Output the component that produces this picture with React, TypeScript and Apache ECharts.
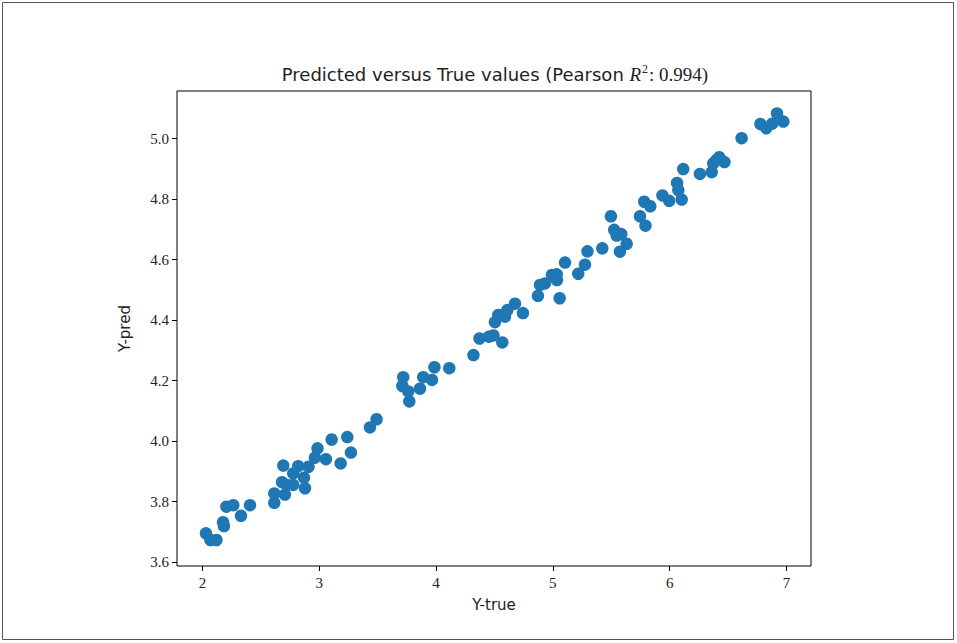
import React, { useEffect, useRef } from "react";
import * as echarts from "echarts";

const yTrue: number[] = [
  2.03, 2.068, 2.12, 2.176, 2.184, 2.205, 2.264, 2.33, 2.407, 2.615,
  2.615, 2.692, 2.706, 2.681, 2.723, 2.777, 2.777, 2.82, 2.869, 2.878,
  2.908, 2.963, 2.985, 3.057, 3.106, 3.183, 3.24, 3.271, 3.434, 3.491,
  3.719, 3.711, 3.762, 3.771, 3.862, 3.89, 3.965, 3.986, 4.113, 4.32,
  4.372, 4.453, 4.491, 4.567, 4.504, 4.533, 4.59, 4.61, 4.676, 4.744,
  4.872, 4.89, 4.932, 4.992, 5.033, 5.035, 5.058, 5.104, 5.217, 5.275,
  5.296, 5.423, 5.574, 5.632, 5.497, 5.525, 5.546, 5.586, 5.746, 5.793,
  5.782, 5.834, 5.938, 5.996, 6.063, 6.074, 6.103, 6.116, 6.259, 6.36,
  6.373, 6.401, 6.425, 6.469, 6.616, 6.777, 6.827, 6.878, 6.919, 6.973,
];

const yPred: number[] = [
  3.695, 3.673, 3.673, 3.732, 3.719, 3.783, 3.788, 3.753, 3.788, 3.796,
  3.827, 3.919, 3.823, 3.864, 3.855, 3.893, 3.855, 3.917, 3.879, 3.844,
  3.915, 3.945, 3.976, 3.94, 4.005, 3.926, 4.013, 3.962, 4.045, 4.072,
  4.211, 4.182, 4.164, 4.131, 4.173, 4.211, 4.202, 4.244, 4.241, 4.284,
  4.339, 4.345, 4.349, 4.326, 4.393, 4.417, 4.411, 4.433, 4.454, 4.423,
  4.48, 4.516, 4.521, 4.549, 4.551, 4.532, 4.472, 4.59, 4.553, 4.583,
  4.627, 4.637, 4.626, 4.652, 4.743, 4.698, 4.679, 4.684, 4.743, 4.712,
  4.791, 4.776, 4.812, 4.794, 4.853, 4.829, 4.798, 4.899, 4.883, 4.889,
  4.918, 4.929, 4.938, 4.922, 5.001, 5.048, 5.034, 5.049, 5.083, 5.056,
];

const xTicks: number[] = [2, 3, 4, 5, 6, 7];
const yTicks: number[] = [3.6, 3.8, 4.0, 4.2, 4.4, 4.6, 4.8, 5.0];

const serif = "'Liberation Serif', 'DejaVu Serif', serif";
const sans = "'DejaVu Sans', 'Noto Sans', sans-serif";

export default function App() {
  const ref = useRef<HTMLDivElement>(null);
  useEffect(() => {
    document.body.style.margin = "0";
    if (!ref.current) return;
    const chart = echarts.init(ref.current, null, { renderer: "svg" });
    const points = yTrue.map((x, i) => [x, yPred[i]]);
    chart.setOption({
      animation: false,
      backgroundColor: "#ffffff",
      title: {
        text: "{a|Predicted versus True values (Pearson }{i|R}{s|2}{b|: 0.994)}",
        left: 490,
        textAlign: "center",
        top: 58,
        textStyle: {
          fontWeight: "normal",
          rich: {
            a: { fontFamily: sans, fontSize: 18, fontWeight: "normal", color: "#222" },
            i: { fontFamily: serif, fontStyle: "italic", fontSize: 19, fontWeight: "normal", color: "#222" },
            s: { fontFamily: serif, fontSize: 12, fontWeight: "normal", color: "#222", verticalAlign: "top", padding: [0, 1, 10, 1] },
            b: { fontFamily: serif, fontSize: 19, fontWeight: "normal", color: "#222" },
          },
        },
      },
      graphic: [
        {
          type: "rect",
          shape: { x: 2.5, y: 2.5, width: 951, height: 637 },
          style: { fill: "none", stroke: "#555", lineWidth: 1 },
          silent: true,
        },
      ],
      grid: {
        left: 177,
        top: 91,
        width: 634,
        height: 475,
        show: true,
        borderColor: "#000",
        borderWidth: 1,
        backgroundColor: "transparent",
      },
      xAxis: {
        type: "value",
        min: 1.782,
        max: 7.21,
        name: "Y-true",
        nameLocation: "middle",
        nameGap: 31,
        nameTextStyle: { fontFamily: sans, fontSize: 15, color: "#222" },
        axisLine: { show: false },
        splitLine: { show: false },
        axisTick: {
          show: true,
          inside: false,
          length: 5,
          customValues: xTicks,
          lineStyle: { color: "#000", width: 1 },
        },
        axisLabel: {
          customValues: xTicks,
          margin: 9,
          fontFamily: serif,
          fontSize: 15,
          color: "#222",
          formatter: (v: number) => String(Math.round(v)),
        },
      },
      yAxis: {
        type: "value",
        min: 3.587,
        max: 5.157,
        name: "Y-pred",
        nameLocation: "middle",
        nameGap: 45,
        nameRotate: 90,
        nameTextStyle: { fontFamily: sans, fontSize: 15, color: "#222" },
        axisLine: { show: false },
        splitLine: { show: false },
        axisTick: {
          show: true,
          inside: false,
          length: 5,
          customValues: yTicks,
          lineStyle: { color: "#000", width: 1 },
        },
        axisLabel: {
          customValues: yTicks,
          margin: 8,
          fontFamily: serif,
          fontSize: 15,
          color: "#222",
          formatter: (v: number) => v.toFixed(1),
        },
      },
      series: [
        {
          type: "scatter",
          data: points,
          symbol: "circle",
          symbolSize: 12.5,
          itemStyle: { color: "#1f77b4", opacity: 1 },
        },
      ],
    });
    return () => chart.dispose();
  }, []);
  return <div ref={ref} style={{ position: "absolute", left: 0, top: 0, width: 957, height: 643 }} />;
}
